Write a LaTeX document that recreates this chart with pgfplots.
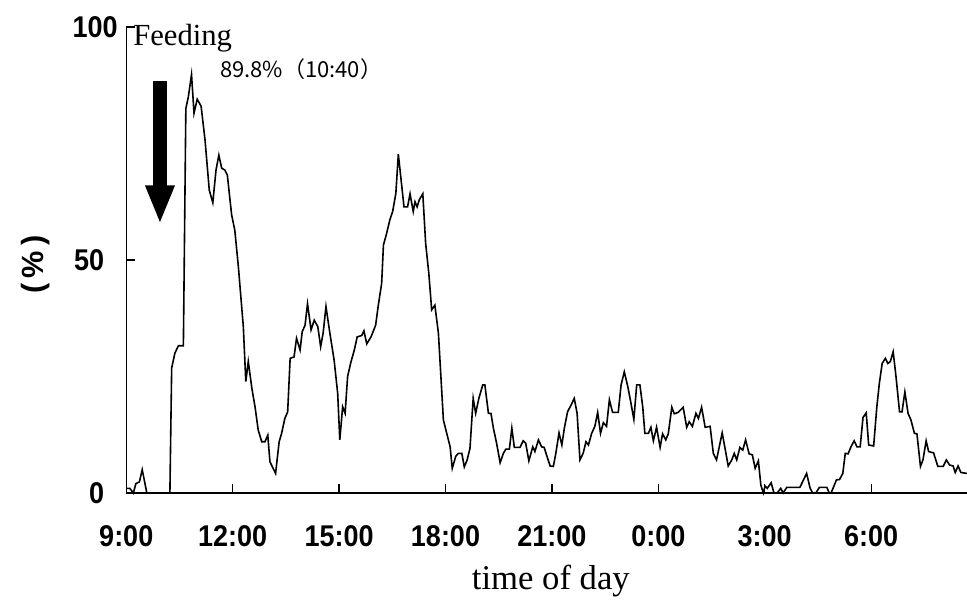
\documentclass[border=0pt]{standalone}
\usepackage{pgfplots}
\pgfplotsset{compat=1.18}
\usepackage{pgfplotstable}
\usepackage{fontspec}
\setmainfont{Liberation Serif}
\newfontfamily\arial{Liberation Sans}
\newfontfamily\arialn{Liberation Sans}[FakeStretch=0.9]
\newfontfamily\cjk{Noto Sans CJK JP}
\usetikzlibrary{arrows.meta}
\pgfplotstableread{
h v
0.01 1
0.10 1
0.20 0
0.27 2
0.37 2.4
0.45 5
0.58 0
1.23 0
1.28 26.8
1.37 30
1.47 31.6
1.61 31.6
1.68 82.5
1.75 85
1.84 89.8
1.91 81.5
2.00 84.5
2.11 83
2.22 75.8
2.34 65
2.44 62.3
2.53 69.3
2.61 72.5
2.69 69.7
2.78 69.3
2.85 68.2
2.97 59.7
3.06 56.4
3.16 48.6
3.30 35.7
3.37 23.9
3.44 28.2
3.54 22.5
3.63 18.5
3.72 13.5
3.82 11
3.91 11
3.99 12.4
4.05 6.7
4.21 4.2
4.31 11
4.38 12.8
4.47 16
4.55 17.4
4.62 28.9
4.73 29.2
4.80 33.2
4.90 30.7
4.96 34.6
5.04 36
5.11 40.6
5.21 35
5.30 37.1
5.40 35.7
5.48 31.4
5.55 34.3
5.63 40
5.74 34.3
5.86 28.5
5.96 21.4
6.02 11.4
6.10 18.5
6.17 17.1
6.24 25
6.33 28
6.43 30.7
6.51 33.5
6.64 33.8
6.70 34.8
6.78 32
6.90 33.5
7.03 36
7.10 40
7.20 45
7.25 53.2
7.34 55.7
7.43 58.6
7.51 60.4
7.60 64.3
7.67 72.7
7.83 61.4
7.93 61.4
8.00 64.2
8.09 60.4
8.14 62.5
8.20 61.4
8.26 62.9
8.36 64.2
8.44 53.6
8.53 47.1
8.61 39.3
8.70 40.3
8.80 34.3
8.94 15.7
9.13 9.9
9.19 5.3
9.29 7.9
9.36 8.5
9.46 8.5
9.53 5.6
9.61 7.1
9.69 9.6
9.78 20.3
9.85 17.1
9.94 20.3
10.05 23.2
10.11 23.2
10.21 17.1
10.28 17.1
10.35 13.9
10.44 10.7
10.54 6.5
10.63 8.5
10.70 9.4
10.80 9.4
10.87 13.9
10.94 9.8
11.10 9.8
11.19 11.2
11.26 10.7
11.35 6.9
11.46 9.9
11.52 8.9
11.62 11.4
11.71 9.9
11.78 9.8
11.88 7.4
11.95 5.8
12.04 5.7
12.11 8.5
12.20 12.9
12.28 10.3
12.35 13.9
12.44 17.4
12.56 19.2
12.63 20.3
12.71 17.1
12.79 7.1
12.88 8.5
12.96 11
13.03 10.3
13.12 12.8
13.21 14.3
13.29 17.3
13.37 12.8
13.45 15.1
13.54 14.3
13.62 20
13.71 17.3
13.87 17.3
13.95 23.2
14.04 26
14.14 22.8
14.23 19.2
14.31 15.8
14.39 23.2
14.48 23.2
14.56 18.5
14.62 12.8
14.72 12.8
14.79 14.1
14.86 11.2
14.95 14.1
15.05 9.8
15.12 12.7
15.21 11.4
15.28 12.7
15.38 18.4
15.45 17
15.56 17.3
15.70 18.4
15.80 14.1
15.87 15.3
15.96 14.3
16.06 17.1
16.13 16
16.22 18.4
16.32 14.1
16.46 14.3
16.55 8.5
16.64 7.1
16.80 12.9
16.88 9.6
16.97 5.8
17.07 7.1
17.14 8.5
17.21 7.1
17.30 9.8
17.38 9.2
17.46 11.4
17.56 8.4
17.65 8.2
17.73 5.3
17.82 6.9
17.89 1.7
17.96 0
18.01 1.5
18.07 1
18.18 2.2
18.26 0
18.35 0
18.45 1
18.52 0
18.62 1.2
18.99 1.2
19.18 4.2
19.28 1
19.35 0
19.44 0
19.54 1.2
19.75 1.2
19.82 0
19.87 0
20.02 2.8
20.11 2.9
20.20 4.2
20.27 8.5
20.35 8.4
20.43 9.9
20.52 11.2
20.60 9.9
20.69 9.9
20.77 16.2
20.86 17.2
20.93 10.3
21.07 10.1
21.16 18.5
21.23 23.5
21.31 27.8
21.40 28.9
21.47 27.8
21.54 28.2
21.62 30.3
21.70 25
21.80 17.4
21.87 17.4
21.95 21.7
22.04 17.1
22.12 15.7
22.22 12.8
22.29 12.7
22.39 5.7
22.46 7.1
22.55 11.2
22.62 8.9
22.76 8.6
22.88 5.7
23.03 5.7
23.12 7.1
23.21 6
23.31 5.8
23.37 4.4
23.45 5.8
23.53 4.4
23.70 4.2
}\feeding
\begin{document}
\begin{tikzpicture}
\begin{axis}[
  scale only axis, width=630.5pt, height=349.5pt,
  xmin=0, xmax=23.70, ymin=0, ymax=100,
  axis x line*=bottom, axis y line*=left,
  x axis line style={line width=1.6pt},
  y axis line style={line width=1pt},
  xtick={0,3,...,21},
  xticklabels={9:00,12:00,15:00,18:00,21:00,0:00,3:00,6:00},
  ytick={0,50},
  extra y ticks={100},
  extra y tick style={yticklabel style={xshift=10pt}},
  tick align=inside, major tick length=6.5pt,
  tick style={black, line width=1pt},
  ticklabel style={font=\arialn\bfseries\fontsize{22.5}{22.5}\selectfont},
  /pgf/number format/assume math mode=true,
  xticklabel style={yshift=-21pt},
  yticklabel style={xshift=-13pt},
  xlabel={time of day},
  xlabel style={at={(axis description cs:0.505,0)}, anchor=base, yshift=-72pt,
    font=\fontsize{26}{26}\selectfont},
  ylabel={(\,\%\,)},
  ylabel style={at={(axis description cs:0,0.49)}, anchor=center, yshift=68pt,
    font=\arial\bfseries\fontsize{23}{23}\selectfont},
  clip=false,
]
\addplot[black, line width=1.2pt] table[x=h, y=v] {\feeding};
\coordinate (O) at (axis cs:0,0);
\draw[line width=10pt, -{Triangle[width=20pt,length=29pt]}] (axis cs:0.95,88.5) -- (axis cs:0.95,57.7);
\node[anchor=base west, inner sep=0pt, font=\fontsize{23}{23}\selectfont] at (axis cs:0.19,96.1) {Feeding};
\node[anchor=base west, inner sep=0pt, font=\cjk\fontsize{16.5}{16.5}\selectfont] at (axis cs:2.64,89.1) {89.8\%（10:40）};
\end{axis}
\pgfresetboundingbox
\path ([shift={(-94.7pt,-80.25pt)}]O) rectangle ++(725.25pt,450pt);
\end{tikzpicture}
\end{document}
